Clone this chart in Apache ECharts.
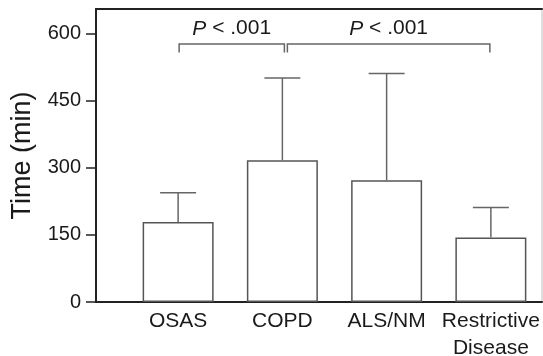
<!DOCTYPE html>
<html>
<head>
<meta charset="utf-8">
<script src="https://cdn.jsdelivr.net/npm/echarts@6/dist/echarts.min.js"></script>
<style>
html,body{margin:0;padding:0;background:#fff;}
#chart{width:543px;height:356px;}
</style>
</head>
<body>
<div id="chart"></div>
<script>
var categories = ['OSAS', 'COPD', 'ALS/NM', 'Restrictive\nDisease'];
var means = [179, 317, 272, 144];
var upperErr = [244, 501, 511, 211];
var yTicks = [0, 150, 300, 450, 600];
var comparisons = [[0, 1], [1, 3]];
var compLabels = ['P < .001', 'P < .001'];
var bracketLevel = [577, 577];
var bracketEnd = [558, 558];
var labelLevel = [611, 611];

var FONT = 'Liberation Sans, Arial, Helvetica, sans-serif';
var YMAX = 655;

var chart = echarts.init(document.getElementById('chart'), null, {renderer: 'canvas'});

var errData = categories.map(function (c, i) { return [i, means[i], upperErr[i]]; });
var brData = comparisons.map(function (p, k) { return [p[0], p[1], bracketLevel[k], bracketEnd[k], labelLevel[k], k]; });

var option = {
  animation: false,
  backgroundColor: '#fff',
  grid: [
    {left: 96, right: 1, top: 9, bottom: 54, show: true, borderColor: '#bdbdbd', borderWidth: 1, backgroundColor: 'transparent', containLabel: false, outerBoundsMode: 'none'},
    {left: 126, right: 0, top: 9, bottom: 54, containLabel: false, outerBoundsMode: 'none'}
  ],
  xAxis: [
    {gridIndex: 0, type: 'value', min: 0, max: 1, position: 'bottom',
      axisLine: {show: true, lineStyle: {color: '#222', width: 2}},
      axisTick: {show: false}, axisLabel: {show: false}, splitLine: {show: false}},
    {gridIndex: 0, type: 'value', min: 0, max: 1, position: 'top',
      axisLine: {show: true, lineStyle: {color: '#222', width: 2}},
      axisTick: {show: false}, axisLabel: {show: false}, splitLine: {show: false}},
    {gridIndex: 1, type: 'category', data: categories, position: 'bottom',
      axisLine: {show: false}, axisTick: {show: false}, splitLine: {show: false},
      axisLabel: {show: true, interval: 0, color: '#1a1a1a', fontFamily: FONT, fontSize: 21, lineHeight: 27, margin: 6}}
  ],
  yAxis: [
    {gridIndex: 0, type: 'value', min: 0, max: YMAX,
      name: 'Time (min)', nameLocation: 'middle', nameGap: 60,
      nameTextStyle: {color: '#1a1a1a', fontFamily: FONT, fontSize: 27},
      axisLine: {show: true, lineStyle: {color: '#222', width: 2}},
      axisTick: {show: true, length: 10, customValues: yTicks, lineStyle: {color: '#222', width: 1.5}},
      axisLabel: {show: true, customValues: yTicks, color: '#1a1a1a', fontFamily: FONT, fontSize: 20, margin: 15},
      splitLine: {show: false}},
    {gridIndex: 1, type: 'value', min: 0, max: YMAX, show: false, splitLine: {show: false}}
  ],
  series: [
    {type: 'bar', xAxisIndex: 2, yAxisIndex: 1, data: means, barWidth: 71,
      itemStyle: {color: '#fff', borderColor: '#555', borderWidth: 1.5}, z: 2},
    {type: 'custom', xAxisIndex: 2, yAxisIndex: 1, data: errData, z: 3,
      renderItem: function (params, api) {
        var x = api.value(0);
        var p0 = api.coord([x, api.value(1)]);
        var p1 = api.coord([x, api.value(2)]);
        var hw = 18;
        return {type: 'group', children: [
          {type: 'line', shape: {x1: p0[0], y1: p0[1], x2: p1[0], y2: p1[1]}, style: {stroke: '#666', lineWidth: 1.5}},
          {type: 'line', shape: {x1: p1[0] - hw, y1: p1[1], x2: p1[0] + hw, y2: p1[1]}, style: {stroke: '#666', lineWidth: 1.5}}
        ]};
      }},
    {type: 'custom', xAxisIndex: 2, yAxisIndex: 1, data: brData, z: 4,
      renderItem: function (params, api) {
        var a = api.value(0), b = api.value(1);
        var lvl = api.value(2), end = api.value(3), lab = api.value(4), k = api.value(5);
        var pa = api.coord([a, lvl]), pb = api.coord([b, lvl]);
        var ea = api.coord([a, end]);
        var pl = api.coord([0, lab]);
        var offA = k === 0 ? 1 : 5, offB = k === 0 ? 2 : -1;
        var xa = pa[0] + offA, xb = pb[0] + offB;
        var parts = compLabels[k].split(' ');
        return {type: 'group', children: [
          {type: 'polyline', shape: {points: [[xa, ea[1]], [xa, pa[1]], [xb, pa[1]], [xb, ea[1]]]},
            style: {stroke: '#666', lineWidth: 1.5, fill: null}},
          {type: 'text', x: (xa + xb) / 2, y: pl[1],
            style: {text: '{i|' + parts[0] + '} ' + parts.slice(1).join(' '),
              rich: {i: {fontStyle: 'italic', fontFamily: FONT, fontSize: 21, fill: '#1a1a1a'}},
              fontFamily: FONT, fontSize: 21, fill: '#1a1a1a', align: 'center', verticalAlign: 'middle'}}
        ]};
      }}
  ]
};
chart.setOption(option);
</script>
</body>
</html>
